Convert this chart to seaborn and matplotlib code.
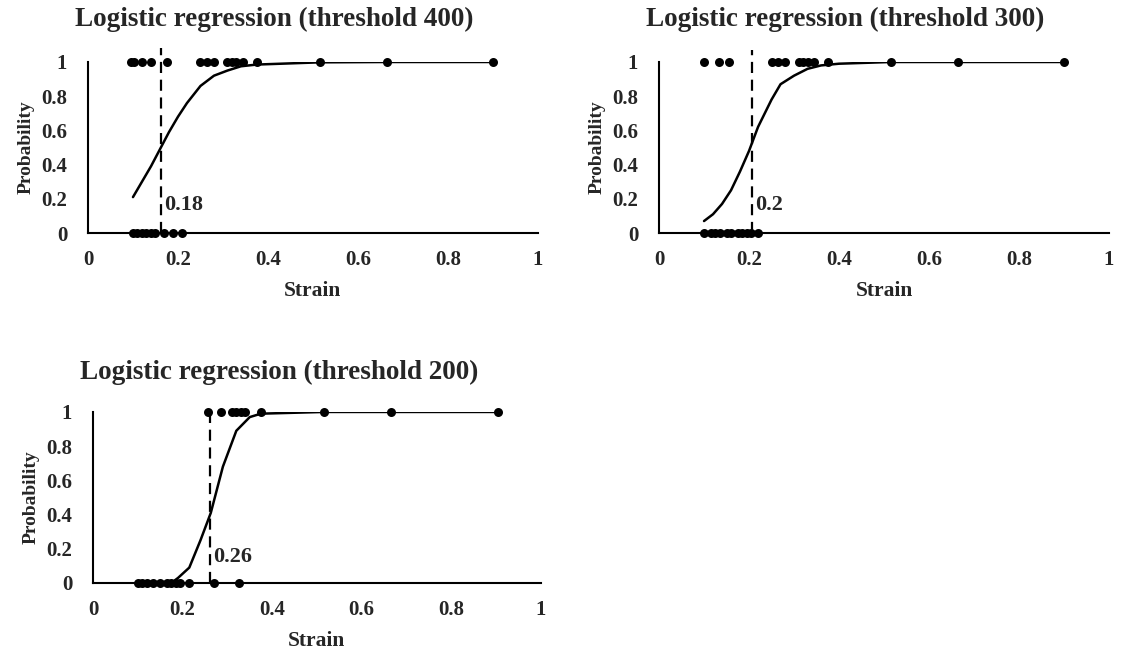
import numpy as np
import pandas as pd
import matplotlib
matplotlib.use("Agg")
import matplotlib.pyplot as plt
import seaborn as sns

# ====================
#  DATA
# ====================

titles = ["Logistic regression (threshold 400)",
          "Logistic regression (threshold 300)",
          "Logistic regression (threshold 200)"]
cut_labels = ["0.18", "0.2", "0.26"]
cut_x = [0.163, 0.207, 0.262]

# threshold 400
t400_fail = [0.095, 0.102, 0.12, 0.14, 0.175, 0.25, 0.265, 0.28, 0.31, 0.32, 0.33, 0.345, 0.375, 0.515, 0.665, 0.90]
t400_safe = [0.10, 0.11, 0.12, 0.13, 0.14, 0.15, 0.168, 0.188, 0.208]
t400_curve_x = [0.10, 0.12, 0.14, 0.16, 0.18, 0.20, 0.22, 0.25, 0.28, 0.31, 0.34, 0.375, 0.515, 0.665, 0.90]
t400_curve_y = [0.21, 0.30, 0.39, 0.49, 0.59, 0.68, 0.76, 0.86, 0.92, 0.95, 0.975, 0.985, 0.998, 1.0, 1.0]

# threshold 300
t300_fail = [0.101, 0.133, 0.156, 0.25, 0.265, 0.28, 0.31, 0.32, 0.33, 0.345, 0.375, 0.515, 0.665, 0.90]
t300_safe = [0.10, 0.115, 0.125, 0.135, 0.15, 0.16, 0.175, 0.185, 0.195, 0.205, 0.22]
t300_curve_x = [0.10, 0.12, 0.14, 0.16, 0.18, 0.20, 0.22, 0.25, 0.27, 0.30, 0.33, 0.36, 0.40, 0.515, 0.665, 0.90]
t300_curve_y = [0.07, 0.11, 0.17, 0.25, 0.36, 0.48, 0.62, 0.78, 0.87, 0.92, 0.96, 0.98, 0.99, 1.0, 1.0, 1.0]

# threshold 200
t200_fail = [0.257, 0.285, 0.31, 0.32, 0.33, 0.34, 0.375, 0.515, 0.665, 0.905]
t200_safe = [0.10, 0.11, 0.12, 0.135, 0.15, 0.165, 0.175, 0.185, 0.195, 0.215, 0.27, 0.325]
t200_curve_x = [0.10, 0.15, 0.18, 0.19, 0.215, 0.24, 0.263, 0.29, 0.32, 0.35, 0.375, 0.515, 0.665, 0.905]
t200_curve_y = [0.0, 0.0, 0.01, 0.03, 0.09, 0.25, 0.41, 0.68, 0.89, 0.97, 0.99, 1.0, 1.0, 1.0]

ticks = [0, 0.2, 0.4, 0.6, 0.8, 1]
tick_labels = ["0", "0.2", "0.4", "0.6", "0.8", "1"]

# ====================
#  STYLE
# ====================

sns.set_theme(style="white")
plt.rcParams['font.family'] = ['Liberation Serif', 'DejaVu Serif']
plt.rcParams['font.weight'] = 'bold'


def draw_panel(ax, fail, safe, cx, cy, cut, cut_label, dash_top, label_y):
    pts = pd.DataFrame({'strain': list(fail) + list(safe),
                        'prob': [1] * len(fail) + [0] * len(safe)})
    curve = pd.DataFrame({'strain': cx, 'prob': cy})

    sns.lineplot(data=curve, x='strain', y='prob', ax=ax, color='black', lw=1.8, zorder=2)
    sns.scatterplot(data=pts, x='strain', y='prob', ax=ax, color='black', s=42,
                    edgecolor='black', linewidth=0, zorder=3, clip_on=False)
    ax.plot([cut, cut], [0, dash_top], color='black', lw=1.6, ls=(0, (5, 3)),
            clip_on=False, zorder=2)
    ax.text(cut + 0.006, label_y, cut_label, fontsize=16, fontweight='bold',
            ha='left', va='center')

    ax.set_xlim(0, 1)
    ax.set_ylim(0, 1)
    ax.set_xticks(ticks)
    ax.set_xticklabels(tick_labels)
    ax.set_yticks(ticks)
    ax.set_yticklabels(tick_labels)
    ax.tick_params(axis='both', length=0, labelsize=15)
    ax.tick_params(axis='x', pad=12)
    ax.tick_params(axis='y', pad=15)
    for lab in ax.get_xticklabels() + ax.get_yticklabels():
        lab.set_fontweight('bold')
    sns.despine(ax=ax)
    for side in ['left', 'bottom']:
        ax.spines[side].set_linewidth(1.5)
        ax.spines[side].set_color('black')
    ax.set_xlabel('Strain', fontsize=15.5, fontweight='bold', labelpad=8)
    ax.set_ylabel('Probability', fontsize=14, fontweight='bold', labelpad=5)
    ax.set_facecolor('white')


# ====================
#  FIGURE
# ====================

fig = plt.figure(figsize=(11.25, 6.54), dpi=100)
fig.patch.set_facecolor('white')

ax1 = fig.add_axes([0.0782, 0.6437, 0.400, 0.2615])
ax2 = fig.add_axes([0.5858, 0.6437, 0.400, 0.2615])
ax3 = fig.add_axes([0.0827, 0.1086, 0.398, 0.2615])

draw_panel(ax1, t400_fail, t400_safe, t400_curve_x, t400_curve_y, cut_x[0], cut_labels[0], 1.08, 0.165)
draw_panel(ax2, t300_fail, t300_safe, t300_curve_x, t300_curve_y, cut_x[1], cut_labels[1], 1.07, 0.165)
draw_panel(ax3, t200_fail, t200_safe, t200_curve_x, t200_curve_y, cut_x[2], cut_labels[2], 1.0, 0.15)

fig.text(274 / 1125, 1 - 19 / 654, titles[0], ha='center', va='center', fontsize=19.5, fontweight='bold')
fig.text(845 / 1125, 1 - 19 / 654, titles[1], ha='center', va='center', fontsize=19.5, fontweight='bold')
fig.text(279 / 1125, 1 - 372 / 654, titles[2], ha='center', va='center', fontsize=19.5, fontweight='bold')

fig.savefig('out.png', dpi=100, facecolor='white')
